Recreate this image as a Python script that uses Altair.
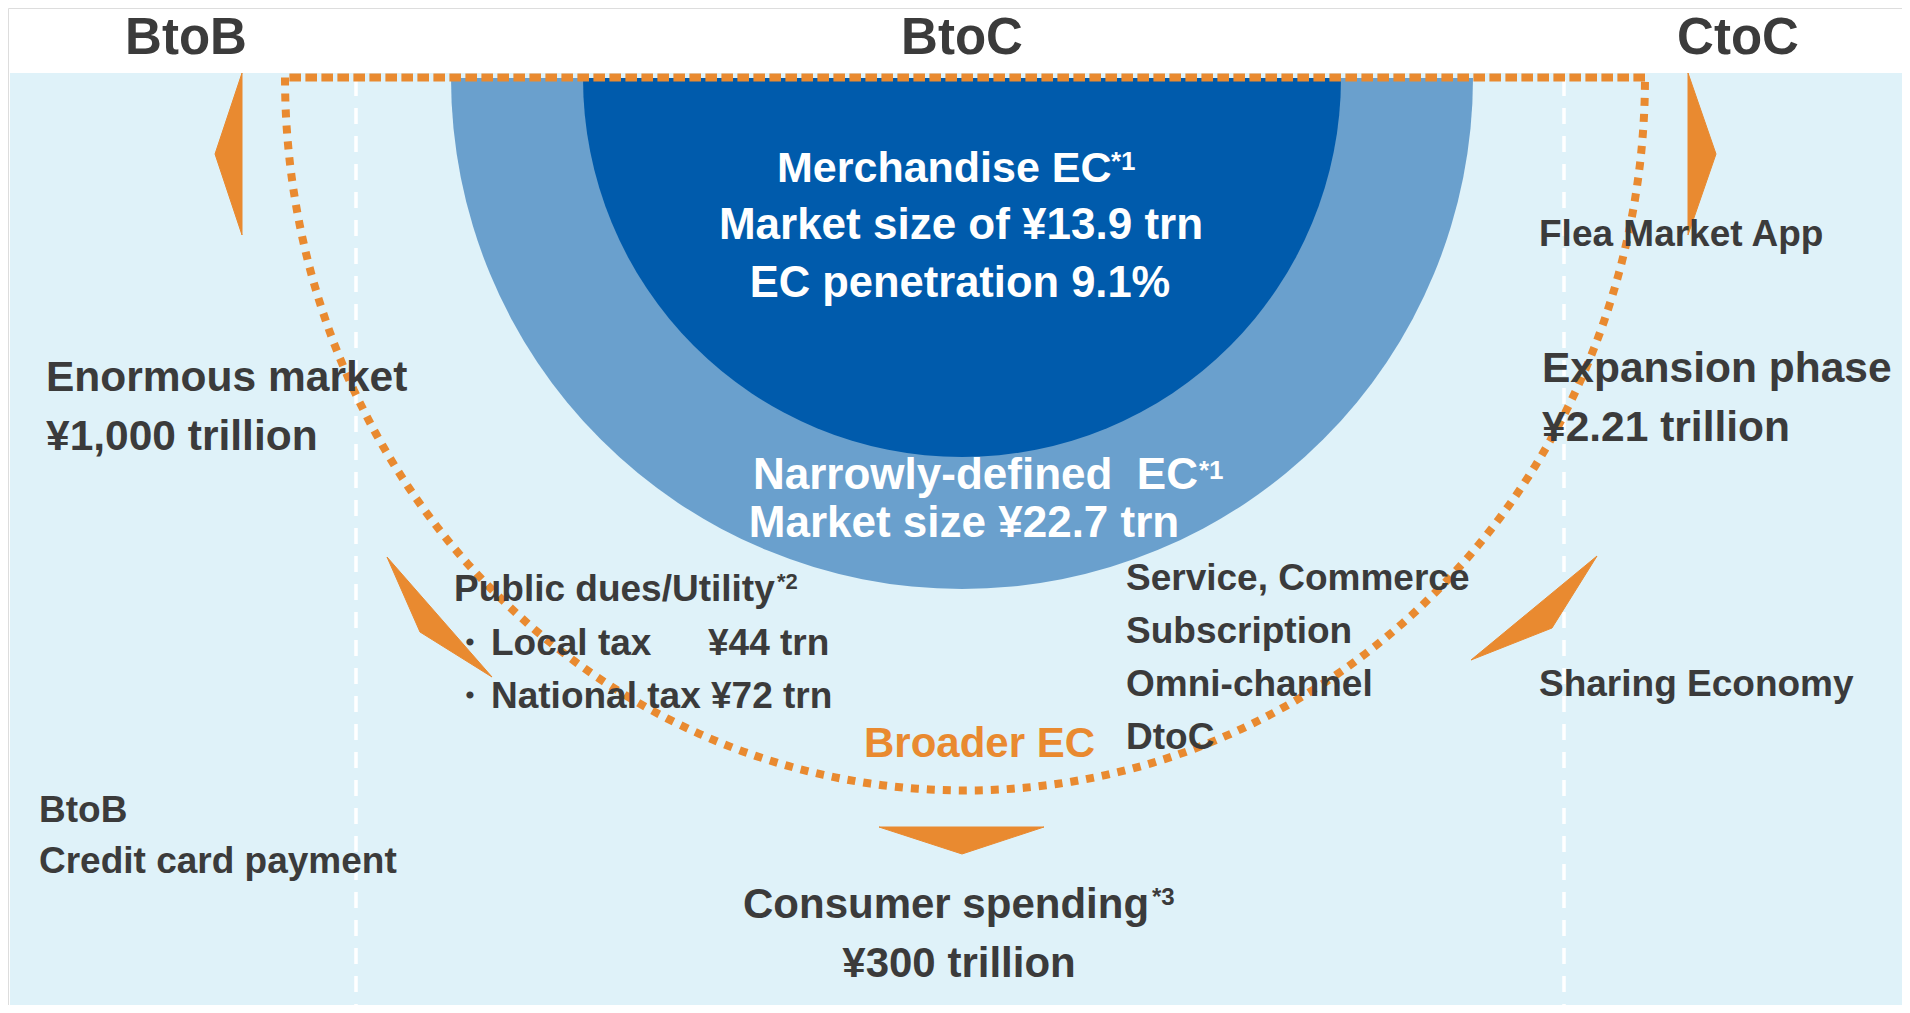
import altair as alt
import pandas as pd
import numpy as np

# ---------------- content ----------------
segment_titles = ["BtoB", "BtoC", "CtoC"]
merch_lines = ["Merchandise EC", "Market size of ¥13.9 trn", "EC penetration 9.1%"]
narrow_lines = ["Narrowly-defined\u00a0 EC", "Market size ¥22.7 trn"]
btob_lines = ["Enormous market", "¥1,000 trillion"]
ctoc_lines = ["Expansion phase", "¥2.21 trillion"]
public_title = "Public dues/Utility"
tax_names = ["Local tax", "National tax"]
tax_values = ["¥44 trn", "¥72 trn"]
service_lines = ["Service, Commerce", "Subscription", "Omni-channel", "DtoC"]
ctoc_items = ["Flea Market App", "Sharing Economy"]
btob_items = ["BtoB", "Credit card payment"]
broader_label = "Broader EC"
consumer_lines = ["Consumer spending", "¥300 trillion"]
footnote_marks = ["*1", "*1", "*2", "*3"]

# ---------------- style ----------------
BG = "#DFF2F9"
DARK = "#3B3B3B"
ORANGE = "#E98A30"
NAVY = "#005BAC"
RING = "#6AA0CD"
FONT = "Liberation Sans"

W, H = 1894, 997
OFF = 8  # page margin: data coords == page pixel coords
xs = alt.Scale(domain=[OFF, OFF + W], range=[0, W], nice=False, zero=False)
ys = alt.Scale(domain=[OFF, OFF + H], range=[0, H], nice=False, zero=False)
X = lambda f: alt.X(f, type="quantitative", scale=xs, axis=None)
Y = lambda f: alt.Y(f, type="quantitative", scale=ys, axis=None)

# ---------------- background ----------------
bg_df = pd.DataFrame({"x": [10], "x2": [OFF + W], "y": [73], "y2": [OFF + H]})
bg = alt.Chart(bg_df).mark_rect(color=BG).encode(
    x=X("x"), x2="x2", y=Y("y"), y2="y2")

dash_df = pd.DataFrame({"x": [356, 1564], "y": [80, 80], "y2": [OFF + H, OFF + H]})
dashes = alt.Chart(dash_df).mark_rule(color="white", strokeWidth=3.5, strokeDash=[16, 12]).encode(
    x=X("x"), y=Y("y"), y2="y2")

# ---------------- semicircles ----------------
ring_df = pd.DataFrame({"x": [962], "y": [78]})
ring = alt.Chart(ring_df).mark_arc(color=RING, radius=511, theta=np.pi / 2, theta2=3 * np.pi / 2).encode(
    x=X("x"), y=Y("y"))
core = alt.Chart(ring_df).mark_arc(color=NAVY, radius=379, theta=np.pi / 2, theta2=3 * np.pi / 2).encode(
    x=X("x"), y=Y("y"))

# ---------------- dotted "Broader EC" outline ----------------
cx, cy, rx, ry = 965, 77.5, 680, 713
t = np.linspace(np.pi, 0, 181)
ox = list(cx + rx * np.cos(t)) + [cx - rx]
oy = list(cy + ry * np.sin(t)) + [cy]
outline_df = pd.DataFrame({"x": [cx + rx] + ox, "y": [cy] + oy})
outline_df["o"] = range(len(outline_df))
outline = alt.Chart(outline_df).mark_line(color=ORANGE, strokeWidth=8, strokeDash=[8, 8], strokeCap="butt").encode(
    x=X("x"), y=Y("y"), order="o:Q")

# ---------------- arrows ----------------
arrow_pts = {
    "btob": [(242, 73), (242, 235), (215, 154)],
    "ctoc": [(1688, 73), (1688, 235), (1716, 154)],
    "public": [(387, 557), (420, 632), (492, 677)],
    "sharing": [(1597, 556), (1552, 628), (1471, 660)],
    "down": [(879, 827), (1044, 827), (962, 854)],
}
rows = []
for k, pts in arrow_pts.items():
    for i, (px, py) in enumerate(pts + [pts[0]]):
        rows.append({"k": k, "x": px, "y": py, "o": i})
arrow_df = pd.DataFrame(rows)
arrows = alt.Chart(arrow_df).mark_line(color=ORANGE, fill=ORANGE, strokeWidth=1).encode(
    x=X("x"), y=Y("y"), detail="k:N", order="o:Q")

# ---------------- texts ----------------
W_ = "white"
left_texts = [
    (merch_lines[0], 777, 182, 43, W_),
    (footnote_marks[0], 1111, 170, 26, W_),
    (narrow_lines[0], 753, 489, 44, W_),
    (footnote_marks[1], 1199, 479, 26, W_),
    (ctoc_items[0], 1539, 246, 37, DARK),
    (ctoc_lines[0], 1542, 382, 42.5, DARK),
    (ctoc_lines[1], 1542, 441, 42.5, DARK),
    (btob_lines[0], 46, 391, 42.5, DARK),
    (btob_lines[1], 46, 450, 42.5, DARK),
    (public_title, 454, 601, 37, DARK),
    (footnote_marks[2], 777, 589, 22, DARK),
    (tax_names[0], 491, 655, 37, DARK),
    (tax_values[0], 708, 655, 37, DARK),
    (tax_names[1], 491, 708, 37, DARK),
    (tax_values[1], 711, 708, 37, DARK),
    (service_lines[0], 1126, 590, 37, DARK),
    (service_lines[1], 1126, 643, 37, DARK),
    (service_lines[2], 1126, 696, 37, DARK),
    (service_lines[3], 1126, 749, 37, DARK),
    (ctoc_items[1], 1539, 696, 37, DARK),
    (broader_label, 864, 757, 42, ORANGE),
    (btob_items[0], 39, 822, 37, DARK),
    (btob_items[1], 39, 873, 37, DARK),
    (consumer_lines[0], 743, 918, 42, DARK),
    (footnote_marks[3], 1152, 905, 24, DARK),
]
center_texts = [
    (segment_titles[0], 186, 54, 51, DARK),
    (segment_titles[1], 962, 54, 51, DARK),
    (segment_titles[2], 1738, 54, 51, DARK),
    (merch_lines[1], 961, 239, 44, W_),
    (merch_lines[2], 960, 297, 43.5, W_),
    (narrow_lines[1], 964, 537, 44, W_),
    ("・", 469, 655, 37, DARK),
    ("・", 469, 708, 37, DARK),
    (consumer_lines[1], 959, 977, 42, DARK),
]
cols = ["text", "x", "y", "size", "color"]
lt = pd.DataFrame(left_texts, columns=cols)
ct = pd.DataFrame(center_texts, columns=cols)


def text_layer(df, align):
    return alt.Chart(df).mark_text(align=align, baseline="alphabetic", font=FONT, fontWeight="bold").encode(
        x=X("x"), y=Y("y"), text="text:N",
        size=alt.Size("size:Q", scale=None, legend=None),
        color=alt.Color("color:N", scale=None, legend=None))


chart = alt.layer(
    bg, dashes, ring, core, outline, arrows,
    text_layer(lt, "left"), text_layer(ct, "center"),
).properties(
    width=W, height=H, padding=0, autosize=alt.AutoSizeParams(type="none"),
).configure_view(stroke="transparent", strokeWidth=0).configure(background="white")

chart.save("out.html", embed_options={"renderer": "svg", "actions": False})
